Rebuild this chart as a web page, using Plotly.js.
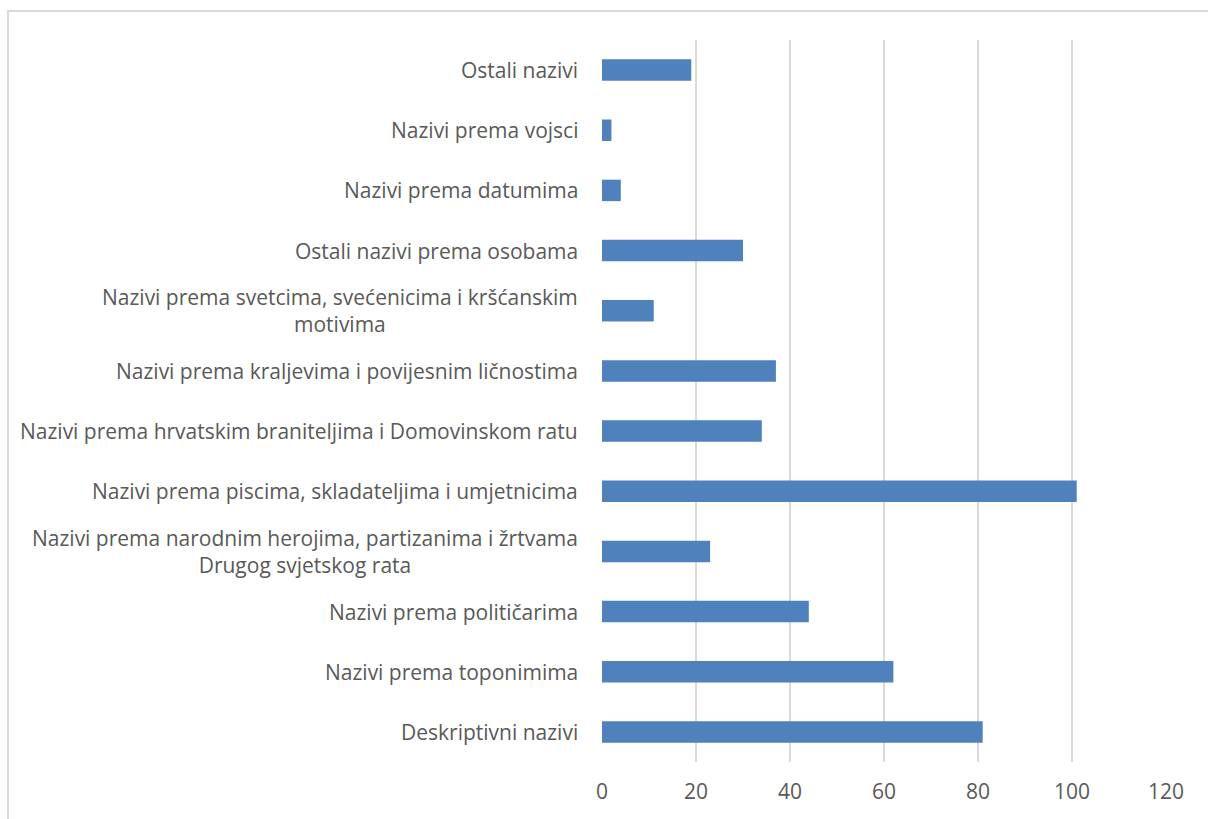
<!DOCTYPE html>
<html>
<head>
<meta charset="utf-8">
<script src="https://cdn.plot.ly/plotly-3.0.1.min.js"></script>
<style>
  html, body { margin: 0; padding: 0; background: #fff; overflow: hidden; width: 1208px; height: 819px; }
  #frame { position: absolute; left: 7px; top: 10px; width: 1400px; height: 1000px; border-top: 2px solid #d9d9d9; border-left: 2px solid #d9d9d9; pointer-events: none; }
  #chart { position: absolute; left: 0; top: 0; width: 1208px; height: 819px; }
</style>
</head>
<body>
<div id="chart"></div>
<div id="frame"></div>
<script>
// Categories listed bottom to top
const categories = [
  "Deskriptivni nazivi",
  "Nazivi prema toponimima",
  "Nazivi prema političarima",
  "Nazivi prema narodnim herojima, partizanima i žrtvama<br>Drugog svjetskog rata",
  "Nazivi prema piscima, skladateljima i umjetnicima",
  "Nazivi prema hrvatskim braniteljima i Domovinskom ratu",
  "Nazivi prema kraljevima i povijesnim ličnostima",
  "Nazivi prema svetcima, svećenicima i kršćanskim<br>motivima",
  "Ostali nazivi prema osobama",
  "Nazivi prema datumima",
  "Nazivi prema vojsci",
  "Ostali nazivi"
];
const values = [81, 62, 44, 23, 101, 34, 37, 11, 30, 4, 2, 19];
const xTicks = [0, 20, 40, 60, 80, 100, 120];

const ids = categories.map((c, i) => "c" + i);

const trace = {
  type: "bar",
  orientation: "h",
  y: ids,
  x: values,
  marker: { color: "#4f81bd" },
  hoverinfo: "x"
};

const labelFont = { family: "'Open Sans', sans-serif", size: 21, color: "#595959" };

const annotations = categories.map((c, i) => ({
  xref: "paper", yref: "y",
  x: 0, y: ids[i],
  xanchor: "right", yanchor: "middle",
  xshift: -22,
  text: c,
  align: "center",
  showarrow: false,
  font: labelFont
}));

const layout = {
  width: 1208, height: 819,
  margin: { l: 602, r: 42, t: 40, b: 57 },
  paper_bgcolor: "rgba(0,0,0,0)",
  plot_bgcolor: "rgba(0,0,0,0)",
  showlegend: false,
  bargap: 0.643,
  xaxis: {
    range: [0, 120],
    tickvals: xTicks,
    ticktext: xTicks.map(String),
    showgrid: true,
    gridcolor: "#d9d9d9",
    gridwidth: 1.5,
    zeroline: false,
    showline: false,
    ticks: "",
    ticklabelstandoff: 15,
    tickfont: labelFont,
    fixedrange: true
  },
  yaxis: {
    categoryorder: "array",
    categoryarray: ids,
    showticklabels: false,
    showgrid: false,
    zeroline: false,
    showline: false,
    ticks: "",
    fixedrange: true
  },
  annotations: annotations
};

Plotly.newPlot("chart", [trace], layout, { displayModeBar: false, staticPlot: true });
</script>
</body>
</html>
